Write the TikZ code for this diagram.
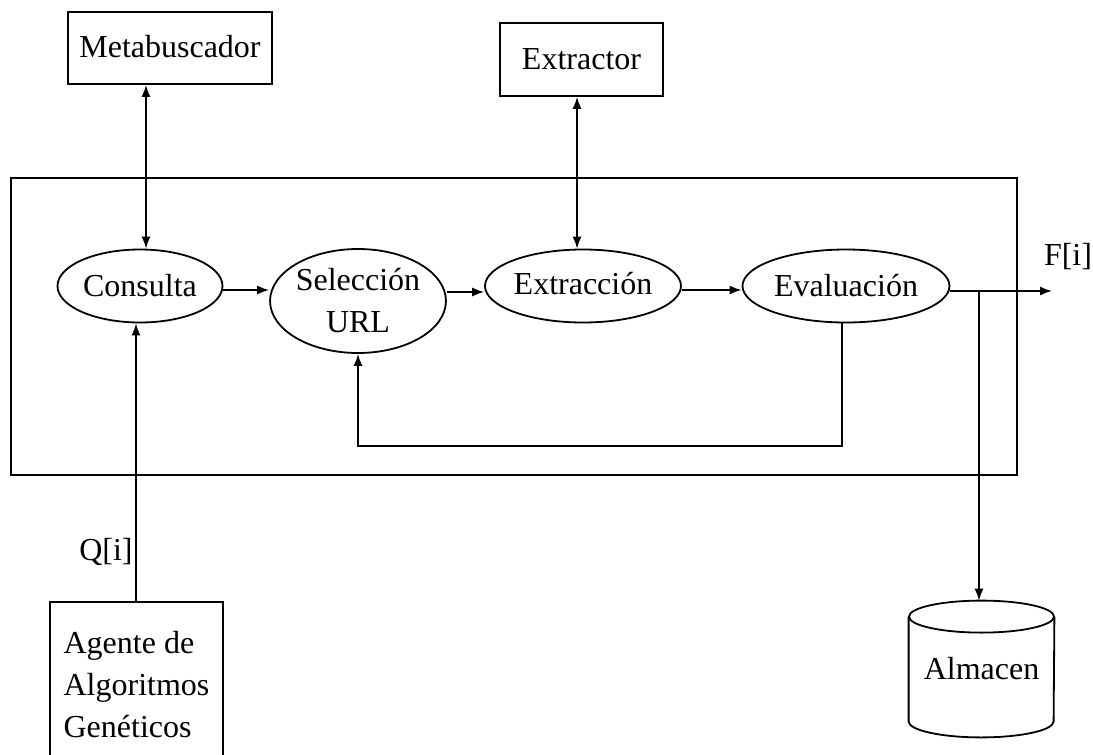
\documentclass[tikz,border=0pt]{standalone}
\usepackage{fontspec}
\setmainfont{Liberation Serif}
\usetikzlibrary{shapes.geometric,arrows.meta}
\begin{document}
\begin{tikzpicture}[x=0.5pt,y=-0.5pt,
  every node/.style={font=\fontsize{16}{21}\selectfont, inner sep=0pt},
  box/.style={draw, rectangle, line width=0.9pt},
  proc/.style={draw, ellipse, line width=0.9pt},
  line/.style={line width=0.8pt},
  arr/.style={line, -{Latex[length=6pt,width=4.5pt]}},
  dbl/.style={line, {Latex[length=6pt,width=4.5pt]}-{Latex[length=6pt,width=4.5pt]}}]
\useasboundingbox (0,0) rectangle (1093,755);
\clip (0,0) rectangle (1093,755);

% external components
\node[box, minimum width=102pt, minimum height=36pt] (meta) at (170,48) {\raisebox{2pt}{Metabuscador}};
\node[box, minimum width=81.5pt, minimum height=36.5pt] (extractor) at (581.5,59.5) {Extractor};

% system boundary
\draw[line width=0.9pt] (11,178) rectangle (1017,475);

% internal processes
\node[proc, minimum width=82.5pt, minimum height=36.5pt] (consulta) at (140,286) {Consulta};
\node[proc, minimum width=87pt, minimum height=52pt, align=center] (seleccion) at (358,301) {Selección\\URL};
\node[proc, minimum width=92pt, minimum height=36.5pt] (extraccion) at (583,286) {\raisebox{3pt}{Extracción}};
\node[proc, minimum width=103.5pt, minimum height=36.5pt] (evaluacion) at (846,286) {Evaluación};

% genetic algorithm agent (box runs past the lower edge)
\node[box, minimum width=86.5pt, minimum height=83pt, align=left] (agente) at (136.5,685) {Agente de\\Algoritmos\\Genéticos};

% storage cylinder
\node[minimum width=72.5pt, minimum height=68pt] (almacen) at (981.5,669) {Almacen};
\draw[line width=0.9pt] ([yshift=-8pt]almacen.north) ellipse [x radius=36.25pt, y radius=8pt];
\draw[line width=0.9pt] ([yshift=-8pt]almacen.north west) -- ([yshift=8pt]almacen.south west)
  arc [start angle=180, end angle=360, x radius=36.25pt, y radius=8pt]
  -- ([yshift=-8pt]almacen.north east);

% labels
\node (qlabel) at (106,552) {Q[i]};
\node (flabel) at (1068,257) {F[i]};

% connectors
\path ([xshift=3pt]consulta.north) coordinate (ctop)
      ([xshift=-2pt]consulta.south) coordinate (cbot)
      ([xshift=-3pt]extraccion.north) coordinate (etop);
\draw[dbl] (meta.south -| ctop) -- (ctop);
\draw[dbl] (extractor.south -| etop) -- (etop);
\draw[arr] (agente.north -| cbot) -- (cbot);

\draw[arr] ([yshift=-2pt]consulta.east) -- ([yshift=-2pt]consulta.east -| seleccion.west);
\draw[arr] ([yshift=4.5pt]seleccion.east) -- ([yshift=4.5pt]seleccion.east -| extraccion.west);
\draw[arr] ([yshift=-2pt]extraccion.east) -- ([yshift=-2pt]extraccion.east -| evaluacion.west);

\draw[arr] ([xshift=-2pt]evaluacion.south) -- ++(0,122.5) -| (seleccion.south);

\coordinate (fout) at (1052,291);
\coordinate (split) at (979,291);
\draw[arr] ([yshift=-2.5pt]evaluacion.east) -- (fout);
\draw[arr] (split) -- (split |- almacen.north);
\end{tikzpicture}
\end{document}
